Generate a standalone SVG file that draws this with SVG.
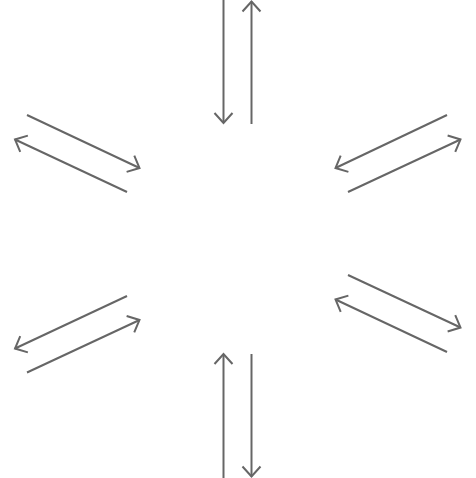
<svg xmlns="http://www.w3.org/2000/svg" width="476" height="478" viewBox="0 0 476 478">
<style>
.c line{stroke:#666;stroke-width:2;fill:none}
</style>
<defs>
<marker id="ah" markerUnits="userSpaceOnUse" markerWidth="24" markerHeight="24" viewBox="-12 -12 24 24" refX="0" refY="0" orient="auto" overflow="visible">
<path d="M-10,-9 L0,0 L-10,9" fill="none" stroke="#666" stroke-width="2" stroke-linejoin="miter"/>
</marker>
</defs>
<rect width="476" height="478" fill="#fff"/>
<g id="connectors" class="c">
<line x1="223.5" y1="0" x2="223.5" y2="123" marker-end="url(#ah)"/>
<line x1="251.5" y1="124" x2="251.5" y2="1.5" marker-end="url(#ah)"/>
<line x1="27" y1="115" x2="139.5" y2="168" marker-end="url(#ah)"/>
<line x1="127" y1="192" x2="15" y2="139.5" marker-end="url(#ah)"/>
<line x1="447" y1="115" x2="335.5" y2="168" marker-end="url(#ah)"/>
<line x1="348" y1="192" x2="460.5" y2="139.5" marker-end="url(#ah)"/>
<line x1="127" y1="296" x2="15" y2="348.5" marker-end="url(#ah)"/>
<line x1="27" y1="372.5" x2="139.5" y2="320" marker-end="url(#ah)"/>
<line x1="348" y1="275" x2="460.5" y2="327.5" marker-end="url(#ah)"/>
<line x1="447" y1="352" x2="335.5" y2="299.5" marker-end="url(#ah)"/>
<line x1="223.5" y1="478" x2="223.5" y2="354" marker-end="url(#ah)"/>
<line x1="251.5" y1="354" x2="251.5" y2="476.5" marker-end="url(#ah)"/>
</g>
</svg>
